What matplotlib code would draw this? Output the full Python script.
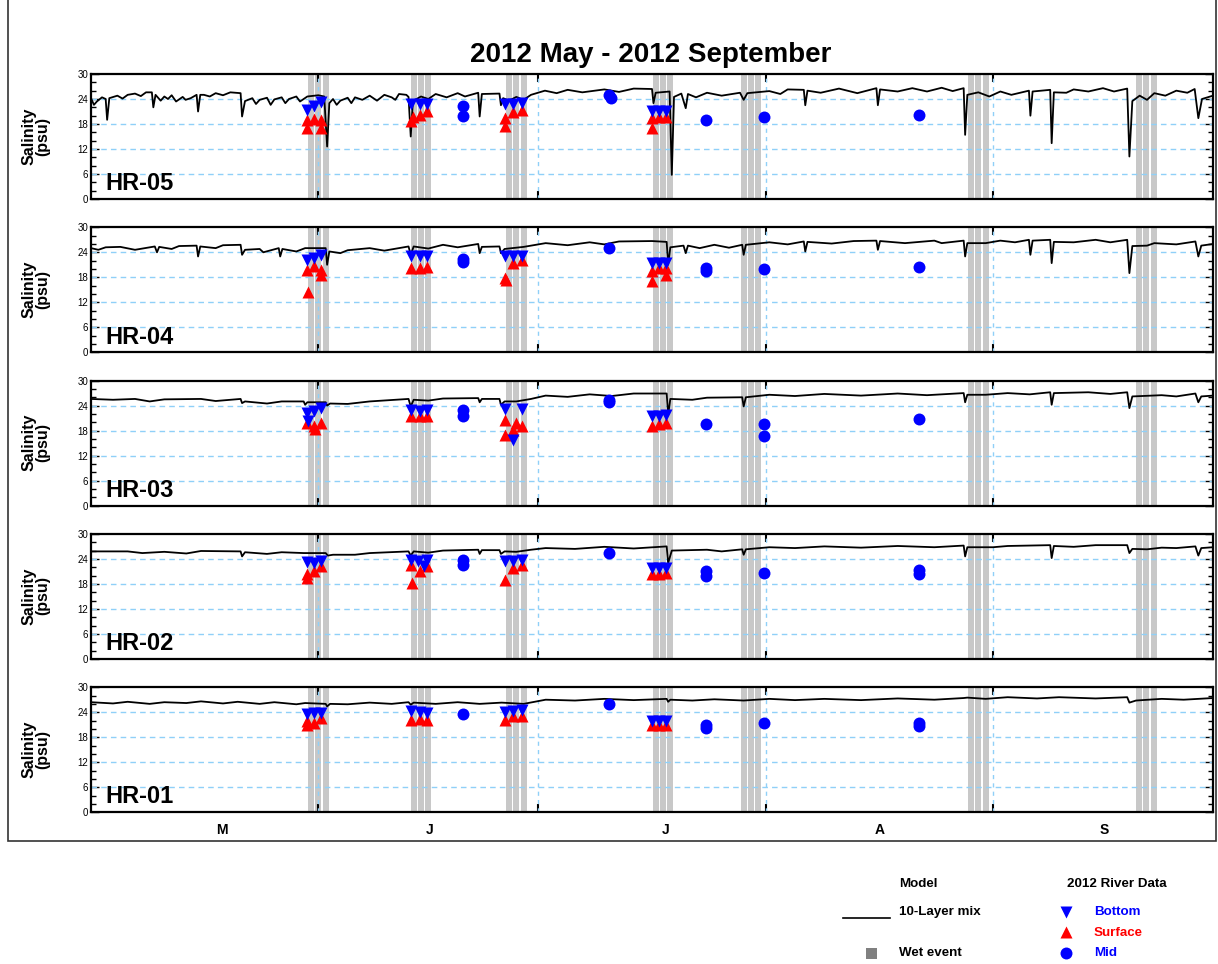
import matplotlib
matplotlib.use("Agg")
import matplotlib.pyplot as plt
from matplotlib.patches import Rectangle

plt.rcParams['font.family'] = ['Liberation Sans', 'DejaVu Sans']

# days since 2012-05-01
month_edges = [31, 61, 92, 123]
month_labels = ['M', 'J', 'J', 'A', 'S']
month_label_days = [17.9, 46.2, 78.4, 107.6, 138.2]
wet_days = [30, 31, 32, 44, 45, 46, 57, 58, 59, 77, 78, 79, 89, 90, 91,
            120, 121, 122, 142.9, 143.9, 144.9]

stations = ['HR-05', 'HR-04', 'HR-03', 'HR-02', 'HR-01']

# 10-layer mix model salinity (day, psu)
hr05_model = [(0, 24.2), (0.4, 22.6), (0.8, 23.4), (1.5, 24.4), (2.0, 24.0), (2.2, 19.0), (2.5, 24.2),
              (3.6, 24.8), (5, 25.0), (6, 25.3), (7.5, 25.6), (8.3, 25.6), (8.5, 22.0), (8.8, 25.0),
              (10, 24.6), (11, 24.9), (12.5, 24.5), (14.4, 25.0), (14.6, 21.0), (14.9, 25.0),
              (15.4, 25.0), (17, 25.4), (19, 25.6), (20.4, 25.4), (20.6, 19.8), (21.0, 23.5),
              (22, 24.2), (23, 23.8), (24, 24.3), (25, 23.9), (26, 24.4), (27, 24.0), (28, 24.6),
              (29.5, 24.6), (31, 24.9), (31.8, 24.6), (32.2, 12.6), (32.5, 23.0), (33, 24.0),
              (34, 23.6), (35, 24.3), (36, 24.4), (37, 23.8), (38, 24.8), (40, 25.0), (41, 24.4),
              (42, 25.2), (43, 25.0), (43.3, 24.5), (43.6, 15.0), (43.9, 23.5), (45, 24.6),
              (47, 25.2), (50, 25.4), (52.8, 25.5), (53.0, 19.8), (53.3, 25.2), (55.7, 25.3),
              (55.9, 22.5), (56.2, 24.2), (58, 24.5), (60, 25.0), (61.9, 26.0), (65, 26.2),
              (70, 26.3), (74, 26.5), (76.5, 26.4), (76.7, 23.0), (77, 25.5), (78.9, 25.8),
              (79.2, 5.8), (79.5, 24.5), (80.5, 25.3), (81.1, 21.8), (81.4, 25.2), (84, 25.5),
              (88.5, 25.5), (89, 23.8), (89.5, 25.4), (92.5, 25.9), (95, 26.3), (97.2, 26.2),
              (97.4, 22.5), (97.7, 26.0), (102, 26.5), (107.1, 26.6), (107.3, 22.5), (107.6, 26.3),
              (112, 26.6), (116, 26.7), (119, 26.6), (119.2, 15.4), (119.5, 25.0), (121, 25.6),
              (124, 25.8), (127.9, 26.0), (128.1, 20.0), (128.4, 25.8), (130.8, 26.2), (131.0, 13.4),
              (131.3, 25.6), (134, 26.3), (138, 26.6), (141.3, 26.5), (141.6, 10.2), (142, 23.5),
              (143, 24.8), (145, 25.4), (148, 26.0), (150.5, 26.4), (151.0, 19.4), (151.5, 24.0),
              (153, 24.8)]
hr05_ripple = [(4.3, 24.1), (6.8, 24.7), (9.5, 23.6), (10.5, 24.0), (11.6, 23.4), (12.9, 23.8),
               (13.6, 24.2), (16.2, 24.6), (18, 24.9), (22.5, 22.8), (24.5, 22.6), (26.5, 23.0),
               (28.5, 23.4), (33.5, 22.6), (35.5, 23.0), (39, 23.6), (41.5, 23.8), (46, 24.0),
               (48.5, 24.4), (51, 24.6), (57, 23.6), (59, 23.8), (63.5, 25.4), (67, 25.6),
               (72, 25.7), (82.5, 24.4), (86, 24.8), (94, 25.2), (99.5, 25.5), (104.5, 25.4),
               (110, 25.8), (114, 25.8), (117.5, 25.9), (122.5, 24.6), (125.5, 25.0), (133, 25.5),
               (136, 25.8), (139.5, 25.8), (144, 23.8), (146.5, 24.8), (149.5, 25.5)]

hr04_model = [(0, 25.0), (1, 24.6), (2, 25.2), (4, 25.3), (8.7, 25.4), (9, 24.0), (9.3, 25.3),
              (12, 25.5), (14.4, 25.6), (14.6, 23.0), (14.9, 25.4), (18, 25.7), (20.4, 25.8),
              (20.6, 23.4), (21, 24.6), (23, 24.8), (25.6, 25.0), (25.8, 23.0), (26.1, 24.8),
              (29.2, 25.0), (32, 25.0), (32.2, 21.0), (32.5, 24.2), (35, 24.5), (38, 25.0),
              (43.3, 25.4), (43.6, 23.4), (44, 25.4), (48, 25.8), (52.8, 26.0), (53, 23.8),
              (53.3, 25.3), (55.7, 25.4), (55.9, 23.8), (56.4, 24.8), (59, 25.3), (62, 26.2),
              (68, 26.4), (72, 26.6), (76.5, 26.7), (78.5, 26.5), (78.7, 21.0), (79, 25.2),
              (80.8, 25.6), (81.1, 23.8), (81.4, 25.6), (85, 25.8), (88.8, 25.8), (89, 23.4),
              (89.3, 25.8), (92.5, 26.4), (97.2, 26.6), (97.4, 24.2), (97.7, 26.5), (104, 26.7),
              (107.1, 26.8), (107.3, 24.6), (107.6, 26.7), (115, 26.8), (119, 26.8), (119.2, 23.0),
              (119.5, 26.2), (124, 26.8), (127.9, 27.0), (128.1, 23.4), (128.4, 26.8), (130.8, 27.0),
              (131, 21.4), (131.3, 26.5), (137, 27.0), (141.3, 27.0), (141.6, 19.0), (142, 25.5),
              (145, 26.2), (150.6, 26.6), (151, 23.0), (151.4, 25.6), (153, 26.0)]
hr04_ripple = [(6, 24.6), (11, 24.8), (17, 25.0), (23.5, 24.0), (28, 24.2), (34, 23.8), (40, 24.4),
               (46, 24.9), (50, 25.2), (65, 25.7), (70, 25.9), (83, 25.0), (87, 25.1), (95, 25.9),
               (101, 26.1), (111, 26.2), (116, 26.2), (122, 26.2), (126, 26.4), (134, 26.4),
               (139, 26.4), (144, 25.6), (148, 25.9)]

hr03_model = [(0, 25.6), (3, 25.4), (6, 25.6), (10, 25.5), (15, 25.6), (20.4, 25.6), (20.6, 24.6),
              (21, 25.0), (26, 25.0), (29, 25.0), (29.2, 24.2), (29.5, 24.8), (32, 24.8),
              (32.2, 24.0), (32.6, 24.5), (38, 25.0), (43.3, 25.6), (43.6, 23.8), (44, 25.4),
              (48, 25.7), (52.8, 25.8), (53, 24.8), (53.3, 25.6), (55.7, 25.6), (55.9, 24.2),
              (56.4, 25.0), (60, 25.6), (62, 26.4), (68, 26.7), (74, 26.9), (78.5, 26.9),
              (78.7, 21.8), (79, 25.6), (84, 25.9), (88.8, 26.0), (89, 23.8), (89.3, 26.0),
              (92.5, 26.6), (100, 26.8), (110, 26.9), (119, 27.0), (119.2, 24.8), (119.5, 26.6),
              (125, 27.0), (130.8, 27.2), (131, 24.2), (131.3, 27.0), (136, 27.2), (141.3, 27.2),
              (141.6, 23.4), (142, 26.2), (146, 26.5), (150.6, 26.9), (151, 24.8), (151.4, 26.2),
              (153, 26.4)]
hr03_ripple = [(8, 25.0), (17, 25.1), (24, 24.5), (35, 24.4), (46, 25.2), (58, 25.0), (65, 26.1),
               (71, 26.3), (82, 25.4), (96, 26.3), (105, 26.4), (114, 26.5), (122, 26.6),
               (128, 26.7), (139, 26.8), (148, 26.2)]

hr02_model = [(0, 25.8), (5, 25.8), (10, 25.7), (15, 25.9), (20.4, 25.8), (20.6, 24.6), (21, 25.6),
              (26, 25.6), (29, 25.4), (32, 25.4), (32.3, 24.8), (33, 25.0), (38, 25.4),
              (43.3, 25.8), (43.6, 24.8), (44, 25.8), (48, 26.0), (52.8, 26.2), (53, 25.2),
              (53.3, 26.1), (55.7, 26.1), (55.9, 25.2), (56.4, 25.8), (60, 26.2), (62, 26.6),
              (70, 26.9), (78.5, 27.0), (78.7, 23.0), (79.2, 26.0), (84, 26.2), (88.8, 26.3),
              (89, 25.0), (89.3, 26.3), (92.5, 26.8), (100, 27.0), (110, 27.1), (119, 27.2),
              (119.2, 24.6), (119.5, 26.8), (125, 27.1), (130.8, 27.3), (131, 24.2), (131.3, 27.1),
              (137, 27.3), (141.3, 27.3), (141.6, 25.4), (142, 26.4), (146, 26.7), (150.6, 27.0),
              (151, 24.8), (151.4, 26.6), (153, 26.8)]
hr02_ripple = [(7, 25.4), (13, 25.3), (24, 25.2), (36, 25.0), (46, 25.5), (58, 25.7), (66, 26.4),
               (74, 26.5), (86, 25.8), (96, 26.6), (105, 26.7), (115, 26.8), (123, 26.8),
               (134, 26.9), (144, 26.3), (148, 26.6)]

hr01_model = [(0, 26.4), (5, 26.5), (10, 26.4), (15, 26.6), (20, 26.5), (25, 26.4), (29.2, 26.2),
              (32, 26.0), (32.2, 25.4), (32.6, 26.0), (38, 26.3), (43.3, 26.4), (43.6, 25.8),
              (44, 26.3), (50, 26.4), (56, 26.3), (62, 27.0), (70, 27.2), (78.5, 27.2),
              (78.7, 26.5), (79, 27.0), (85, 27.1), (89, 26.8), (92.5, 27.2), (100, 27.2),
              (110, 27.3), (119, 27.4), (119.5, 27.5), (125, 27.6), (132, 27.6), (141.3, 27.6),
              (141.6, 26.3), (142.5, 26.8), (146, 27.2), (153, 27.4)]
hr01_ripple = [(3, 26.1), (8, 26.0), (13, 26.2), (18, 26.1), (23, 26.0), (28, 25.9), (35, 25.9),
               (41, 26.0), (47, 26.0), (53, 26.0), (59, 26.0), (66, 26.8), (74, 26.9), (82, 26.8),
               (96, 26.9), (105, 26.9), (115, 27.0), (122, 27.2), (129, 27.3), (137, 27.3),
               (149, 27.0)]

# 2012 river samples (day, psu)
hr05_bottom = [(29.4, 21.3), (30.4, 22.4), (31.4, 23.2), (43.6, 22.9), (44.8, 22.9), (45.8, 22.9),
               (56.5, 22.9), (57.6, 22.9), (58.8, 23.0), (76.5, 21.2), (77.4, 21.2), (78.4, 21.2)]
hr05_surface = [(29.4, 18.9), (29.4, 17.1), (30.4, 19.2), (31.4, 18.9), (31.4, 17.1), (43.6, 18.6),
                (43.9, 19.6), (44.8, 20.2), (45.8, 21.0), (56.5, 19.4), (56.5, 17.4), (57.6, 20.8),
                (58.8, 21.4), (76.5, 19.4), (76.5, 17.1), (77.4, 19.6), (78.4, 19.6)]
hr05_mid = [(50.7, 22.4), (50.7, 19.8), (70.6, 25.0), (70.9, 24.3), (83.8, 19.0), (91.8, 19.7),
            (112.9, 20.1)]

hr04_bottom = [(29.4, 22.2), (30.4, 22.6), (31.4, 23.4), (43.6, 23.0), (44.8, 23.0), (45.8, 23.0),
               (56.5, 23.0), (57.6, 23.0), (58.8, 23.0), (76.5, 21.4), (77.4, 21.4), (78.4, 21.4)]
hr04_surface = [(29.4, 19.8), (29.6, 14.4), (30.4, 20.6), (31.4, 19.8), (31.4, 18.6), (43.6, 20.2),
                (44.8, 20.3), (45.8, 20.5), (56.5, 17.8), (56.6, 17.4), (57.6, 21.4), (58.8, 22.2),
                (76.5, 19.4), (76.5, 17.0), (77.4, 20.2), (78.4, 20.2), (78.4, 18.6)]
hr04_mid = [(50.7, 22.3), (50.7, 21.6), (70.6, 25.0), (83.8, 20.2), (83.8, 19.5), (91.8, 20.0),
            (112.9, 20.5)]

hr03_bottom = [(29.4, 22.2), (29.6, 20.4), (30.4, 22.7), (31.4, 23.5), (43.6, 23.0), (44.8, 22.6),
               (45.8, 23.0), (56.5, 23.2), (57.6, 15.8), (58.8, 23.2), (76.5, 21.5), (77.4, 21.5),
               (78.4, 21.8)]
hr03_surface = [(29.4, 19.8), (30.4, 19.0), (30.6, 18.4), (31.4, 19.8), (43.6, 21.4), (44.8, 21.4),
                (45.8, 21.5), (56.5, 20.6), (56.5, 17.0), (57.6, 18.2), (57.9, 19.8), (58.8, 19.0),
                (76.5, 19.2), (77.4, 19.6), (78.4, 19.8)]
hr03_mid = [(50.7, 23.0), (50.7, 21.4), (70.6, 25.4), (70.6, 24.8), (83.8, 19.7), (91.8, 19.5),
            (91.8, 16.8), (112.9, 20.8)]

hr02_bottom = [(29.4, 23.2), (30.4, 23.0), (31.4, 23.6), (43.6, 23.8), (44.6, 23.5), (45.4, 22.4),
               (45.8, 23.8), (56.5, 23.4), (57.6, 23.6), (58.8, 23.8), (76.5, 21.8), (77.4, 21.8),
               (78.4, 21.9)]
hr02_surface = [(29.4, 19.4), (29.4, 20.4), (30.4, 21.0), (31.4, 22.2), (43.6, 22.6), (43.8, 18.2),
                (44.8, 21.2), (45.8, 22.2), (56.5, 19.0), (57.6, 21.8), (58.8, 22.6), (76.5, 20.4),
                (77.4, 20.3), (78.4, 20.5)]
hr02_mid = [(50.7, 23.8), (50.7, 22.6), (70.6, 25.4), (83.8, 21.1), (83.8, 19.8), (91.8, 20.6),
            (112.9, 21.4), (112.9, 20.4)]

hr01_bottom = [(29.4, 23.6), (30.4, 23.8), (31.4, 23.8), (43.6, 24.2), (44.8, 24.0), (45.8, 23.9),
               (56.5, 24.0), (57.6, 24.2), (58.8, 24.6), (76.5, 21.9), (77.4, 21.9), (78.4, 21.9)]
hr01_surface = [(29.4, 21.0), (29.4, 22.0), (30.4, 21.4), (31.4, 22.6), (43.6, 22.2), (44.8, 22.4),
                (45.8, 22.2), (56.5, 22.2), (57.6, 23.0), (58.8, 23.2), (76.5, 21.0), (77.4, 21.0),
                (78.4, 21.0)]
hr01_mid = [(50.7, 23.6), (70.6, 26.0), (83.8, 21.0), (83.8, 20.2), (91.8, 21.3), (112.9, 21.4),
            (112.9, 20.8)]

model_runs = [hr05_model + hr05_ripple, hr04_model + hr04_ripple, hr03_model + hr03_ripple,
              hr02_model + hr02_ripple, hr01_model + hr01_ripple]
bottom_obs = [hr05_bottom, hr04_bottom, hr03_bottom, hr02_bottom, hr01_bottom]
surface_obs = [hr05_surface, hr04_surface, hr03_surface, hr02_surface, hr01_surface]
mid_obs = [hr05_mid, hr04_mid, hr03_mid, hr02_mid, hr01_mid]

W, H = 1218, 964
fig = plt.figure(figsize=(W / 100, H / 100), dpi=100)

# pixel-space overlay for frame, title and legend
bg = fig.add_axes([0, 0, 1, 1])
bg.set_xlim(0, W)
bg.set_ylim(H, 0)
bg.axis('off')
bg.add_patch(Rectangle((8, -5), 1208, 846, fill=False, ec='#333333', lw=1.2))
bg.text(651, 55, '2012 May - 2012 September', ha='center', va='center',
        fontsize=20, fontweight='bold')

grid_col = '#8fd0f8'


def xy(pairs):
    pairs = sorted(pairs)
    return [p[0] for p in pairs], [p[1] for p in pairs]


for i, name in enumerate(stations):
    top = 74 + i * 153.3
    ax = fig.add_axes([91 / W, 1 - (top + 125) / H, 1122 / W, 125 / H])
    ax.set_xlim(0, 153)
    ax.set_ylim(0, 30)

    for d in wet_days:
        ax.axvspan(d - 0.42, d + 0.42, color='#c8c8c8', lw=0, zorder=1)
    for v in [6, 12, 18, 24]:
        ax.axhline(v, color=grid_col, lw=1, ls=(0, (4, 3)), zorder=2)
    for d in month_edges:
        ax.axvline(d, color=grid_col, lw=1, ls=(0, (3, 3)), zorder=2)

    d, v = xy(model_runs[i])
    ax.plot(d, v, color='k', lw=1.3, zorder=3)

    d, v = xy(surface_obs[i])
    ax.plot(d, v, '^', color='#ff0000', ms=9, mec='none', zorder=4)
    d, v = xy(bottom_obs[i])
    ax.plot(d, v, 'v', color='#0000ff', ms=9, mec='none', zorder=5)
    d, v = xy(mid_obs[i])
    ax.plot(d, v, 'o', color='#0000ff', ms=8.6, mec='none', zorder=5)

    ax.set_yticks(range(0, 31, 6))
    ax.set_yticks(range(0, 31, 2), minor=True)
    ax.set_xticks(month_edges)
    ax.set_xticklabels([])
    ax.tick_params(axis='y', which='major', direction='in', length=6, width=1,
                   left=True, right=True, labelsize=7, pad=2)
    ax.tick_params(axis='y', which='minor', direction='in', length=3.5, width=1,
                   left=True, right=True)
    ax.tick_params(axis='x', direction='in', length=6, width=1.5, top=True, bottom=True)
    for s in ax.spines.values():
        s.set_linewidth(1.6)

    ax.text(0.0125, 0.07, name, transform=ax.transAxes, fontsize=17,
            fontweight='bold', va='baseline', zorder=6)
    bg.text(36, top + 62, 'Salinity\n(psu)', rotation=90, ha='center', va='center',
            fontsize=11.5, fontweight='bold', linespacing=0.95)

    if i == len(stations) - 1:
        for lab, d in zip(month_labels, month_label_days):
            ax.text(d, -4.2, lab, ha='center', va='center', fontsize=10,
                    fontweight='bold', clip_on=False)

# legend block
fs = 9.6
bg.text(899, 884, 'Model', fontsize=fs, fontweight='bold', va='center')
bg.text(1067, 884, '2012 River Data', fontsize=fs, fontweight='bold', va='center')
bg.plot([843, 890], [918, 918], color='k', lw=1.2)
bg.text(899, 912, '10-Layer mix', fontsize=fs, fontweight='bold', va='center')
bg.add_patch(Rectangle((866, 948), 11, 11, color='#808080', lw=0))
bg.text(899, 953, 'Wet event', fontsize=fs, fontweight='bold', va='center')
bg.plot([1066], [912], 'v', color='#0000ff', ms=9, mec='none')
bg.text(1094, 912, 'Bottom', fontsize=fs, fontweight='bold', va='center', color='#0000ff')
bg.plot([1066], [932], '^', color='#ff0000', ms=9, mec='none')
bg.text(1094, 933, 'Surface', fontsize=fs, fontweight='bold', va='center', color='#ff0000')
bg.plot([1066], [953], 'o', color='#0000ff', ms=8.6, mec='none')
bg.text(1094, 953, 'Mid', fontsize=fs, fontweight='bold', va='center', color='#0000ff')

fig.savefig('out.png', dpi=100)
